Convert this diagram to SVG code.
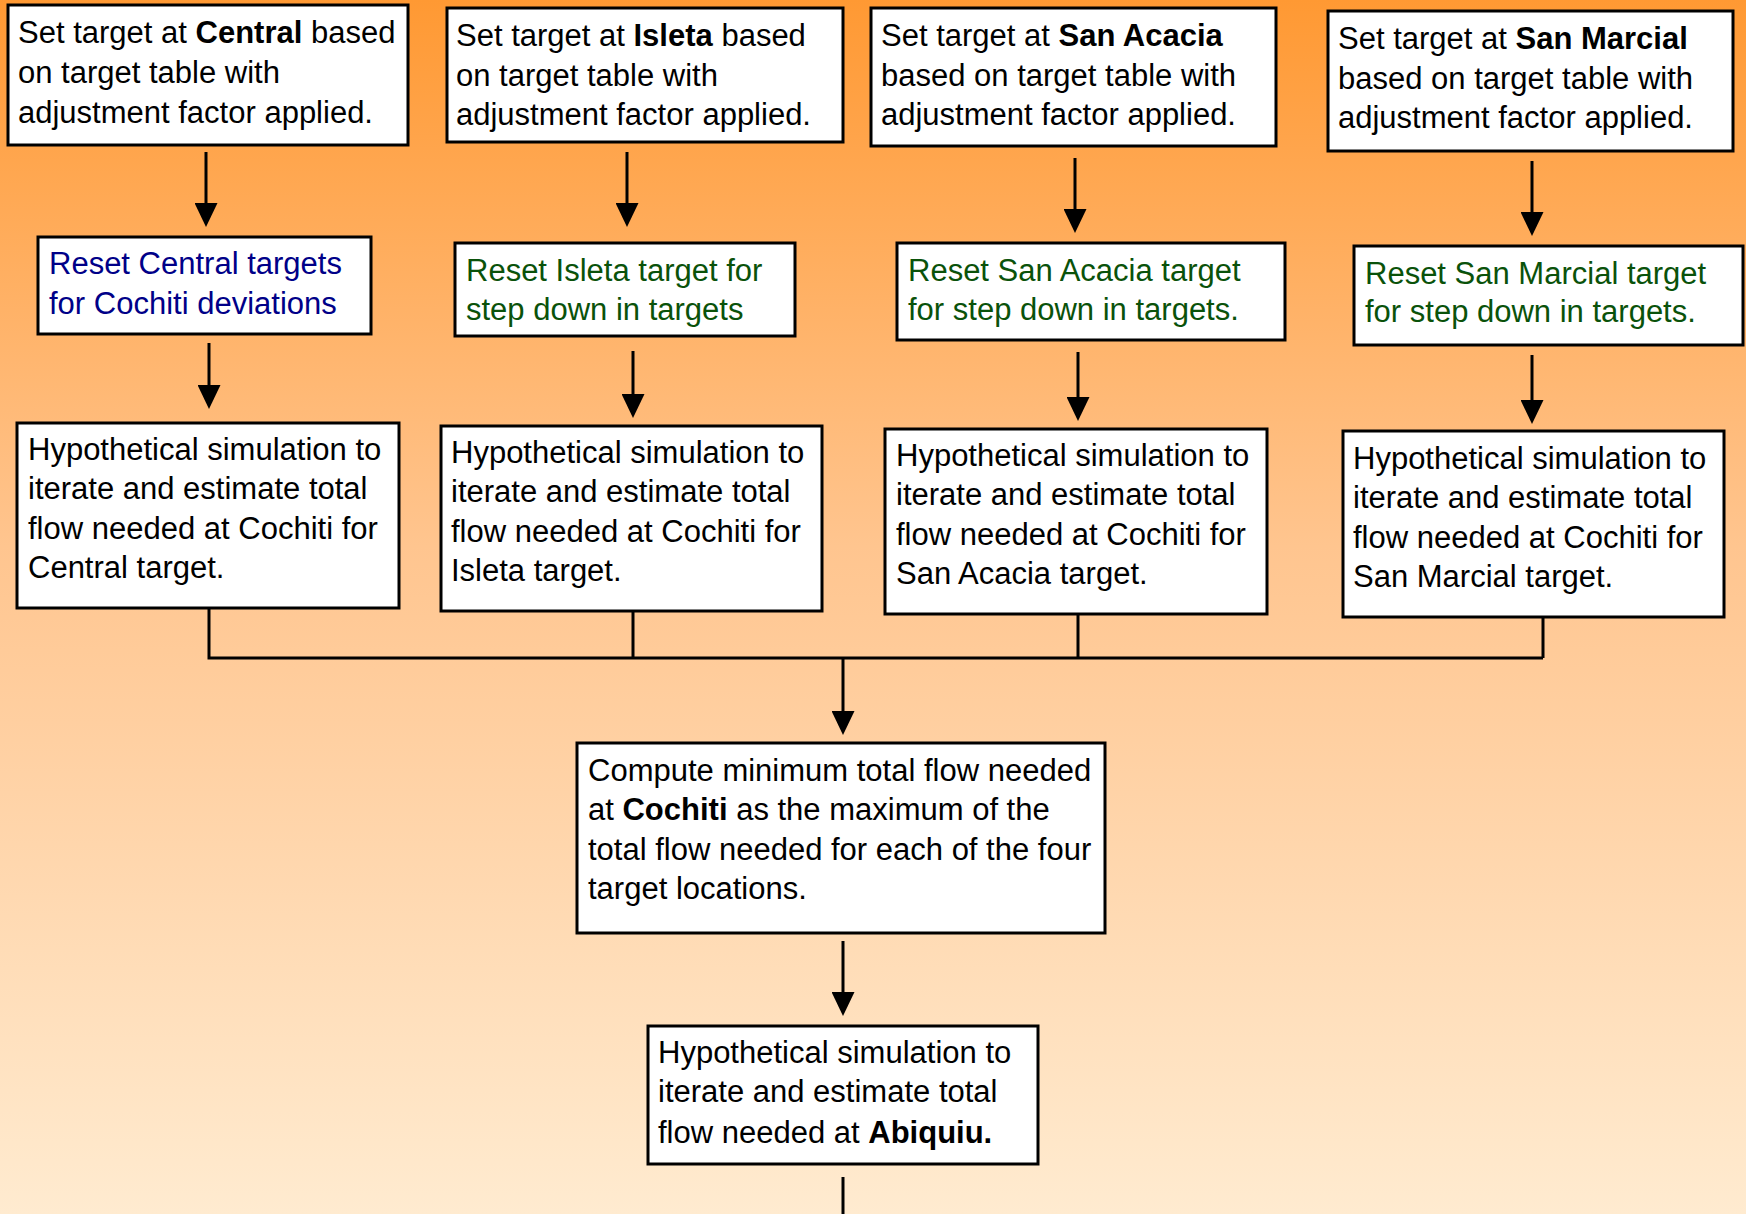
<svg xmlns="http://www.w3.org/2000/svg" width="1746" height="1214" viewBox="0 0 1746 1214">
<defs>
<linearGradient id="bg" x1="0" y1="0" x2="0" y2="1">
<stop offset="0" stop-color="#FF9933"/>
<stop offset="0.45" stop-color="#FFC58F"/>
<stop offset="1" stop-color="#FFEBD0"/>
</linearGradient>
<marker id="arr" markerWidth="24" markerHeight="23" viewBox="0 0 24 23" refX="0" refY="11.5" orient="auto" markerUnits="userSpaceOnUse">
<path d="M0,0 L24,11.5 L0,23 Z" fill="#000"/>
</marker>
<style>
.box{fill:#fff;stroke:#000;stroke-width:3}
.t{font-family:"Liberation Sans",Arial,sans-serif;font-size:31px;fill:#000}
.blue{fill:#000088}
.green{fill:#0A520A}
.c{stroke:#000;stroke-width:3;fill:none}
.ca{stroke:#000;stroke-width:3;fill:none;marker-end:url(#arr)}
</style>
</defs>
<rect x="0" y="0" width="1746" height="1214" fill="url(#bg)"/>

<g id="connectors">
<path class="ca" d="M206,152 V203"/>
<path class="ca" d="M209,343 V385"/>
<path class="ca" d="M627,152 V203"/>
<path class="ca" d="M633,351 V394"/>
<path class="ca" d="M1075,158 V209"/>
<path class="ca" d="M1078,352 V397"/>
<path class="ca" d="M1532,161 V212"/>
<path class="ca" d="M1532,355 V400"/>
<path class="c" d="M209,608 V658 H1543 M633,611 V658 M1078,614 V658 M1543,617 V658"/>
<path class="ca" d="M843,658 V711"/>
<path class="ca" d="M843,941 V992"/>
<path class="c" d="M843,1177 V1214"/>
</g>

<g id="set-central">
<rect class="box" x="8" y="5" width="400" height="140"/>
<text class="t" x="18" y="43">Set target at <tspan font-weight="bold">Central</tspan> based</text>
<text class="t" x="18" y="83">on target table with</text>
<text class="t" x="18" y="123">adjustment factor applied.</text>
</g>
<g id="set-isleta">
<rect class="box" x="447" y="8" width="396" height="134"/>
<text class="t" x="456" y="46">Set target at <tspan font-weight="bold">Isleta</tspan> based</text>
<text class="t" x="456" y="86">on target table with</text>
<text class="t" x="456" y="125">adjustment factor applied.</text>
</g>
<g id="set-sanacacia">
<rect class="box" x="871" y="8" width="405" height="138"/>
<text class="t" x="881" y="46">Set target at <tspan font-weight="bold">San Acacia</tspan></text>
<text class="t" x="881" y="86">based on target table with</text>
<text class="t" x="881" y="125">adjustment factor applied.</text>
</g>
<g id="set-sanmarcial">
<rect class="box" x="1328" y="11" width="405" height="140"/>
<text class="t" x="1338" y="49">Set target at <tspan font-weight="bold">San Marcial</tspan></text>
<text class="t" x="1338" y="89">based on target table with</text>
<text class="t" x="1338" y="128">adjustment factor applied.</text>
</g>

<g id="reset-central">
<rect class="box" x="38" y="237" width="333" height="97"/>
<text class="t blue" x="49" y="274">Reset Central targets</text>
<text class="t blue" x="49" y="314">for Cochiti deviations</text>
</g>
<g id="reset-isleta">
<rect class="box" x="455" y="243" width="340" height="93"/>
<text class="t green" x="466" y="281">Reset Isleta target for</text>
<text class="t green" x="466" y="320">step down in targets</text>
</g>
<g id="reset-sanacacia">
<rect class="box" x="897" y="243" width="388" height="97"/>
<text class="t green" x="908" y="281">Reset San Acacia target</text>
<text class="t green" x="908" y="320">for step down in targets.</text>
</g>
<g id="reset-sanmarcial">
<rect class="box" x="1354" y="246" width="389" height="99"/>
<text class="t green" x="1365" y="284">Reset San Marcial target</text>
<text class="t green" x="1365" y="322">for step down in targets.</text>
</g>

<g id="hyp-central">
<rect class="box" x="17" y="423" width="382" height="185"/>
<text class="t" x="28" y="460">Hypothetical simulation to</text>
<text class="t" x="28" y="499">iterate and estimate total</text>
<text class="t" x="28" y="539">flow needed at Cochiti for</text>
<text class="t" x="28" y="578">Central target.</text>
</g>
<g id="hyp-isleta">
<rect class="box" x="441" y="426" width="381" height="185"/>
<text class="t" x="451" y="463">Hypothetical simulation to</text>
<text class="t" x="451" y="502">iterate and estimate total</text>
<text class="t" x="451" y="542">flow needed at Cochiti for</text>
<text class="t" x="451" y="581">Isleta target.</text>
</g>
<g id="hyp-sanacacia">
<rect class="box" x="885" y="429" width="382" height="185"/>
<text class="t" x="896" y="466">Hypothetical simulation to</text>
<text class="t" x="896" y="505">iterate and estimate total</text>
<text class="t" x="896" y="545">flow needed at Cochiti for</text>
<text class="t" x="896" y="584">San Acacia target.</text>
</g>
<g id="hyp-sanmarcial">
<rect class="box" x="1343" y="431" width="381" height="186"/>
<text class="t" x="1353" y="469">Hypothetical simulation to</text>
<text class="t" x="1353" y="508">iterate and estimate total</text>
<text class="t" x="1353" y="548">flow needed at Cochiti for</text>
<text class="t" x="1353" y="587">San Marcial target.</text>
</g>

<g id="compute-cochiti">
<rect class="box" x="577" y="743" width="528" height="190"/>
<text class="t" x="588" y="781">Compute minimum total flow needed</text>
<text class="t" x="588" y="820">at <tspan font-weight="bold">Cochiti</tspan> as the maximum of the</text>
<text class="t" x="588" y="860">total flow needed for each of the four</text>
<text class="t" x="588" y="899">target locations.</text>
</g>
<g id="hyp-abiquiu">
<rect class="box" x="648" y="1026" width="390" height="138"/>
<text class="t" x="658" y="1063">Hypothetical simulation to</text>
<text class="t" x="658" y="1102">iterate and estimate total</text>
<text class="t" x="658" y="1143">flow needed at <tspan font-weight="bold">Abiquiu.</tspan></text>
</g>
</svg>
